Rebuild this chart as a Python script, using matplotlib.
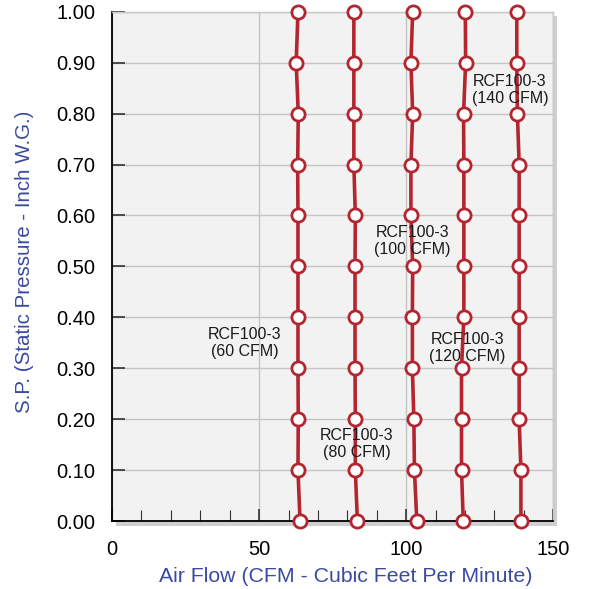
import matplotlib
matplotlib.use("Agg")
import matplotlib.pyplot as plt
from matplotlib.ticker import MultipleLocator

plt.rcParams['font.family'] = ['Liberation Sans', 'DejaVu Sans']

pressure = [1.0, 0.9, 0.8, 0.7, 0.6, 0.5, 0.4, 0.3, 0.2, 0.1, 0.0]
flow_60 = [63.2, 62.6, 63.3, 63.1, 63.2, 63.2, 63.2, 63.2, 63.3, 63.2, 63.9]
flow_80 = [82.2, 82.2, 82.2, 82.2, 82.7, 82.6, 82.6, 82.6, 82.7, 82.7, 83.4]
flow_100 = [102.2, 101.6, 102.2, 101.6, 101.6, 102.2, 102.1, 102.1, 102.6, 102.8, 103.6]
flow_120 = [120.1, 120.2, 119.5, 119.6, 119.6, 119.6, 119.6, 118.8, 118.8, 118.8, 119.4]
flow_140 = [137.6, 137.6, 137.8, 138.4, 138.4, 138.4, 138.4, 138.4, 138.4, 139.0, 139.0]
series = [flow_60, flow_80, flow_100, flow_120, flow_140]

label_text = ["RCF100-3\n(60 CFM)", "RCF100-3\n(80 CFM)", "RCF100-3\n(100 CFM)",
              "RCF100-3\n(120 CFM)", "RCF100-3\n(140 CFM)"]
label_x = [45.1, 83.2, 102.1, 120.8, 135.3]
label_y = [0.35, 0.151, 0.55, 0.34, 0.847]

x_ticks = [0, 50, 100, 150]
y_ticks = [0.0, 0.1, 0.2, 0.3, 0.4, 0.5, 0.6, 0.7, 0.8, 0.9, 1.0]

red = '#b3262f'
blue = '#3a4aa0'

fig = plt.figure(figsize=(5.93, 5.89), dpi=100)
l, b, w, h = 0.189, 0.1154, 0.744, 0.8646

# shadow behind the plot area
shadow = fig.add_axes([l + 0.006, b - 0.008, w, h])
shadow.set_facecolor('#cfcfcf')
shadow.set_xticks([])
shadow.set_yticks([])
for sp in shadow.spines.values():
    sp.set_visible(False)
shadow.set_zorder(0)

ax = fig.add_axes([l, b, w, h])
ax.set_zorder(1)

ax.set_facecolor('#f2f2f2')
ax.set_xlim(0, 150)
ax.set_ylim(0, 1.0)
ax.set_xticks(x_ticks)
ax.set_yticks(y_ticks)
ax.set_yticklabels([f"{v:.2f}" for v in y_ticks])
ax.xaxis.set_minor_locator(MultipleLocator(10))
ax.grid(True, which='major', color='#c4c4c4', linewidth=1.0, zorder=1)
ax.set_axisbelow(True)

for s in series:
    ax.plot(s, pressure, color=red, linewidth=2.6, marker='o', markersize=9.5,
            markerfacecolor='white', markeredgecolor=red, markeredgewidth=2.0,
            zorder=3, clip_on=False)

for t, x, y in zip(label_text, label_x, label_y):
    ax.text(x, y, t, ha='center', va='center', fontsize=11.5, color='#1a1a1a',
            linespacing=1.15, zorder=4)

ax.tick_params(axis='both', which='major', direction='in', length=9, width=1.2,
               labelsize=14.5, colors='#333333', labelcolor='black')
ax.tick_params(axis='x', which='minor', direction='in', length=8, width=0.8, colors='#333333')
ax.tick_params(axis='x', which='major', pad=14)
ax.tick_params(axis='y', which='major', pad=12)

for side in ['left', 'bottom']:
    ax.spines[side].set_color('black')
    ax.spines[side].set_linewidth(1.3)
for side in ['top', 'right']:
    ax.spines[side].set_color('#c8c8c8')
    ax.spines[side].set_linewidth(1.0)

fig.text(346 / 593, 1 - 577 / 589, 'Air Flow (CFM - Cubic Feet Per Minute)',
         fontsize=15.3, color=blue, ha='center', va='center')
fig.text(25 / 593, 1 - 262 / 589, 'S.P. (Static Pressure - Inch W.G.)',
         fontsize=14.8, color=blue, ha='center', va='center', rotation=90)

fig.savefig('out.png', dpi=100)
